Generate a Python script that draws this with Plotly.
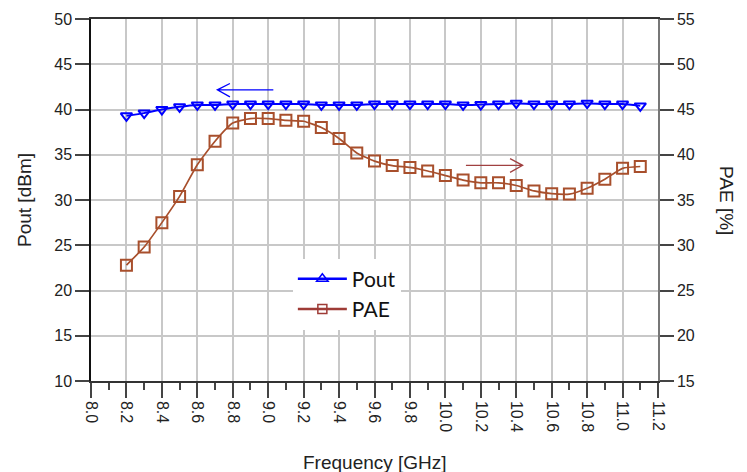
import plotly.graph_objects as go

freq = [8.2, 8.3, 8.4, 8.5, 8.6, 8.7, 8.8, 8.9, 9.0, 9.1, 9.2, 9.3, 9.4, 9.5, 9.6,
        9.7, 9.8, 9.9, 10.0, 10.1, 10.2, 10.3, 10.4, 10.5, 10.6, 10.7, 10.8, 10.9, 11.0, 11.1]
pout = [39.3, 39.6, 40.0, 40.3, 40.5, 40.5, 40.6, 40.6, 40.6, 40.6, 40.6, 40.5, 40.5, 40.5, 40.6,
        40.6, 40.6, 40.6, 40.6, 40.5, 40.55, 40.6, 40.7, 40.6, 40.6, 40.6, 40.7, 40.6, 40.6, 40.4]
pae = [27.8, 29.8, 32.5, 35.4, 38.9, 41.5, 43.5, 44.0, 44.0, 43.8, 43.7, 43.0, 41.8, 40.2, 39.3,
       38.8, 38.6, 38.2, 37.7, 37.2, 36.9, 36.9, 36.6, 36.0, 35.7, 35.65, 36.3, 37.3, 38.5, 38.7]

x_ticks = [8.0, 8.2, 8.4, 8.6, 8.8, 9.0, 9.2, 9.4, 9.6, 9.8, 10.0, 10.2, 10.4, 10.6, 10.8, 11.0, 11.2]

BLUE = "#0000FF"
BROWN = "#A84F2C"
BROWN_LEG = "#9E3B36"
FONT = "Liberation Sans, Arial, sans-serif"

fig = go.Figure()
fig.add_trace(go.Scatter(
    x=freq, y=pout, mode="lines+markers", name="Pout", showlegend=False,
    line=dict(color=BLUE, width=2, shape="spline", smoothing=0.5),
    marker=dict(symbol="triangle-down-open", size=10, color=BLUE, line=dict(width=2)),
))
fig.add_trace(go.Scatter(
    x=freq, y=pae, mode="lines+markers", name="PAE", showlegend=False, yaxis="y2",
    line=dict(color=BROWN, width=1.7, shape="spline", smoothing=0.5),
    marker=dict(symbol="square-open", size=11, color=BROWN, line=dict(width=2)),
))
# legend-only entries
fig.add_trace(go.Scatter(
    x=[None], y=[None], mode="lines+markers", name="Pout",
    line=dict(color=BLUE, width=2.5),
    marker=dict(symbol="triangle-up-open", size=10, color=BLUE, line=dict(width=1.5)),
))
fig.add_trace(go.Scatter(
    x=[None], y=[None], mode="lines+markers", name="PAE",
    line=dict(color=BROWN_LEG, width=2.5),
    marker=dict(symbol="square-open", size=9, color=BROWN_LEG, line=dict(width=1.5)),
))

# direction arrows
fig.add_shape(type="path", xref="x", yref="y",
              path="M 9.029,42.17 L 8.713,42.17 M 8.784,42.87 L 8.713,42.17 L 8.784,41.39",
              line=dict(color=BLUE, width=1.3))
fig.add_shape(type="path", xref="x", yref="y",
              path="M 10.116,33.83 L 10.436,33.83 M 10.365,34.57 L 10.436,33.83 L 10.365,33.05",
              line=dict(color="#A04040", width=1.3))

fig.update_layout(
    width=747, height=472,
    margin=dict(l=91, r=89, t=19, b=91),
    paper_bgcolor="white", plot_bgcolor="white",
    font=dict(family=FONT, size=16, color="#222"),
    xaxis=dict(
        range=[8.0, 11.2], tickvals=x_ticks, tickformat=".1f", tickangle=90,
        showgrid=True, gridcolor="#C8C8C8", gridwidth=1.5,
        ticks="outside", ticklen=15, tickcolor="#444", tickwidth=1.5,
        minor=dict(dtick=0.1, tick0=8.0, ticks="outside", ticklen=7, tickcolor="#444", showgrid=False),
        showline=True, linecolor="#333", linewidth=1.5, mirror=True,
        zeroline=False, tickfont=dict(size=16),
    ),
    yaxis=dict(
        range=[10, 50], dtick=5, tick0=10,
        showgrid=True, gridcolor="#C8C8C8", gridwidth=1.5,
        ticks="outside", ticklen=14, tickcolor="#444", tickwidth=1.5,
        showline=True, linecolor="#111", linewidth=1.5,
        zeroline=False, tickfont=dict(size=16),
    ),
    yaxis2=dict(
        range=[15, 55], dtick=5, tick0=15, overlaying="y", side="right",
        showgrid=False, ticks="outside", ticklen=14, tickcolor="#444", tickwidth=1.5,
        showline=True, linecolor="#777", linewidth=1.5,
        zeroline=False, tickfont=dict(size=16),
    ),
    legend=dict(
        x=0.356, y=0.338, xanchor="left", yanchor="top",
        bgcolor="white", borderwidth=0,
        font=dict(family="Lato, Open Sans, sans-serif", size=21, color="#111"),
        tracegroupgap=0, itemwidth=49,
    ),
    annotations=[
        dict(text="Frequency [GHz]", xref="paper", yref="paper", x=0.5, y=0,
             yshift=-81, xanchor="center", yanchor="middle", showarrow=False,
             font=dict(size=19, family=FONT, color="#222")),
        dict(text="Pout [dBm]", xref="paper", yref="paper", x=0, y=0.5,
             xshift=-67, xanchor="center", yanchor="middle", showarrow=False,
             textangle=-90, font=dict(size=19, family=FONT, color="#222")),
        dict(text="PAE [%]", xref="paper", yref="paper", x=1, y=0.5,
             xshift=69, xanchor="center", yanchor="middle", showarrow=False,
             textangle=90, font=dict(size=19, family=FONT, color="#222")),
    ],
)

fig.write_html("out.html")
